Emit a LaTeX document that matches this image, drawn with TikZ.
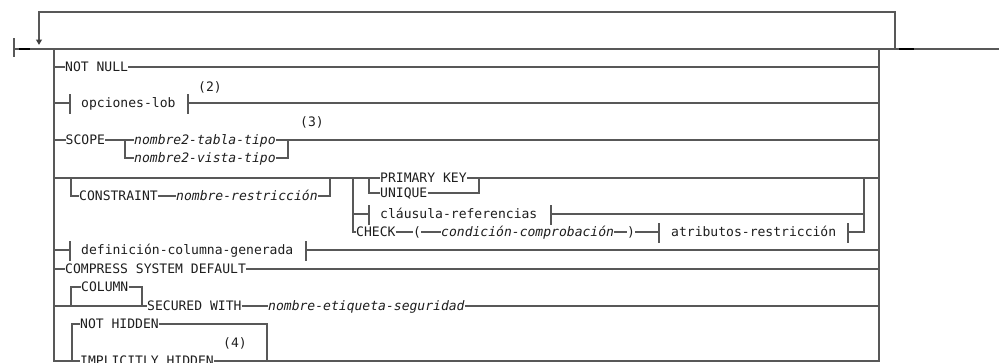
\documentclass[tikz,border=0pt]{standalone}
\usepackage{fontspec}
\newfontfamily\dfont{DejaVu Sans Mono}
\definecolor{lncol}{RGB}{88,88,88}
\definecolor{txcol}{RGB}{30,30,30}
\tikzset{
  ln/.style={draw=lncol, line width=1.1pt},
  barx/.style={draw=black, line width=2.2pt},
  tx/.style={font=\dfont\fontsize{13.05pt}{15pt}\selectfont, text=txcol, inner sep=0pt,
     text height=10pt, text depth=2pt, anchor=west},
  it/.style={tx, font=\dfont\fontsize{13.05pt}{15pt}\selectfont\itshape},
}
\newcommand{\tck}[1]{\draw[ln] ($(#1)+(0,-9)$) -- ($(#1)+(0,11)$);}
\usetikzlibrary{calc}
\begin{document}
\begin{tikzpicture}[x=1pt,y=-1pt]
\useasboundingbox (0,0) rectangle (999,362);
\clip (0,0) rectangle (999,362);
% rails and main line
\coordinate (st) at (14,49);
\coordinate (en) at (999,49);
\coordinate (L) at (54,49);
\coordinate (R) at (879,49);
\coordinate (lpL) at (39,12);
\coordinate (lpR) at (895,12);
\coordinate (arr) at (39,40);
\draw[ln] (st) -- (en);
\draw[ln] (14,38) -- (14,57);
\draw[barx] (19,49) -- (30,49);
\draw[barx] (899,49) -- (914,49);
\draw[ln] (lpR |- L) -- (lpR) -- (lpL) -- (arr);
\fill[lncol!70!black] (35.8,39.5) -- (42.2,39.5) -- (39,44.8) -- cycle;
\draw[ln] (L) -- (54,361) -- (879,361) -- (R);

% NOT NULL
\node[tx] (nn) at (65,67) {NOT NULL};
\draw[ln] (L |- nn.west) -- (nn.west) (nn.east) -- (R |- nn.east);

% opciones-lob
\coordinate (lobA) at (70,103);
\coordinate (lobB) at (188,103);
\node[tx] (lob) at (81,103) {opciones-lob};
\draw[ln] (L |- lobA) -- (lobA) (lobB) -- (R |- lobB);
\tck{lobA} \tck{lobB}
\node[tx] (n2) at (198,87) {(2)};

% SCOPE
\coordinate (sA) at (125,140);
\coordinate (sB) at (288,140);
\node[tx] (scope) at (65.5,140) {SCOPE};
\node[it] (tt) at (134,140) {nombre2-tabla-tipo};
\node[it] (vt) at (134,158) {nombre2-vista-tipo};
\draw[ln] (L |- scope.west) -- (scope.west) (scope.east) -- (tt.west) (tt.east) -- (R |- tt.east);
\draw[ln] (sA) |- (vt.west) (vt.east) -| (sB);
\node[tx] (n3) at (300,122) {(3)};

% CONSTRAINT row
\coordinate (cA) at (71,178);
\coordinate (cB) at (330,178);
\coordinate (chA) at (353,178);
\coordinate (puA) at (369,178);
\coordinate (puB) at (479,178);
\coordinate (chB) at (864,178);
\node[tx] (pk) at (380,178) {PRIMARY KEY};
\draw[ln] (L |- pk.west) -- (pk.west) (pk.east) -- (R |- pk.east);
\node[tx] (cons) at (79,196) {CONSTRAINT};
\node[it] (nr) at (176,196) {nombre-restricción};
\draw[ln] (cA) |- (cons.west) (cons.east) -- (nr.west) (nr.east) -| (cB);
\node[tx] (uq) at (380,193) {UNIQUE};
\draw[ln] (puA) |- (uq.west) (uq.east) -| (puB);
\coordinate (crA) at (369,214);
\coordinate (crB) at (551,214);
\node[tx] (cr) at (380,214) {cláusula-referencias};
\draw[ln] (chA |- crA) -- (crA) (crB) -- (chB |- crB);
\tck{crA} \tck{crB}
\coordinate (arA) at (659,232);
\coordinate (arB) at (848,232);
\node[tx] (chk) at (356,232) {CHECK};
\node[tx] (lp) at (413,232) {(};
\node[it] (cc) at (441,232) {condición-comprobación};
\node[tx] (rp) at (627,232) {)};
\node[tx] (ar) at (671,232) {atributos-restricción};
\draw[ln] (chA) |- (chk.west) (chk.east) -- (lp.west) (lp.east) -- (cc.west)
  (cc.east) -- (rp.west) (rp.east) -- (arA) (arB) -| (chB);
\tck{arA} \tck{arB}

% definicion
\coordinate (dgA) at (70,250);
\coordinate (dgB) at (306,250);
\node[tx] (dg) at (81,250) {definición-columna-generada};
\draw[ln] (L |- dgA) -- (dgA) (dgB) -- (R |- dgB);
\tck{dgA} \tck{dgB}

% COMPRESS
\node[tx] (cs) at (65,269) {COMPRESS SYSTEM DEFAULT};
\draw[ln] (L |- cs.west) -- (cs.west) (cs.east) -- (R |- cs.east);

% COLUMN / SECURED WITH
\coordinate (coA) at (71,306);
\coordinate (coB) at (142,306);
\node[tx] (col) at (81,287) {COLUMN};
\node[tx] (sw) at (147,306) {SECURED WITH};
\node[it] (ne) at (268,306) {nombre-etiqueta-seguridad};
\draw[ln] (L |- sw.west) -- (sw.west) (sw.east) -- (ne.west) (ne.east) -- (R |- ne.east);
\draw[ln] (coA) |- (col.west) (col.east) -| (coB);

% HIDDEN
\coordinate (hA) at (72,361);
\coordinate (hB) at (267,361);
\node[tx] (nh) at (80,324) {NOT HIDDEN};
\node[tx, fill=white] (ih) at (80,361) {IMPLICITLY HIDDEN};
\draw[ln] (hA) |- (nh.west) (nh.east) -| (hB);
\node[tx] (n4) at (223,343) {(4)};
\end{tikzpicture}
\end{document}
